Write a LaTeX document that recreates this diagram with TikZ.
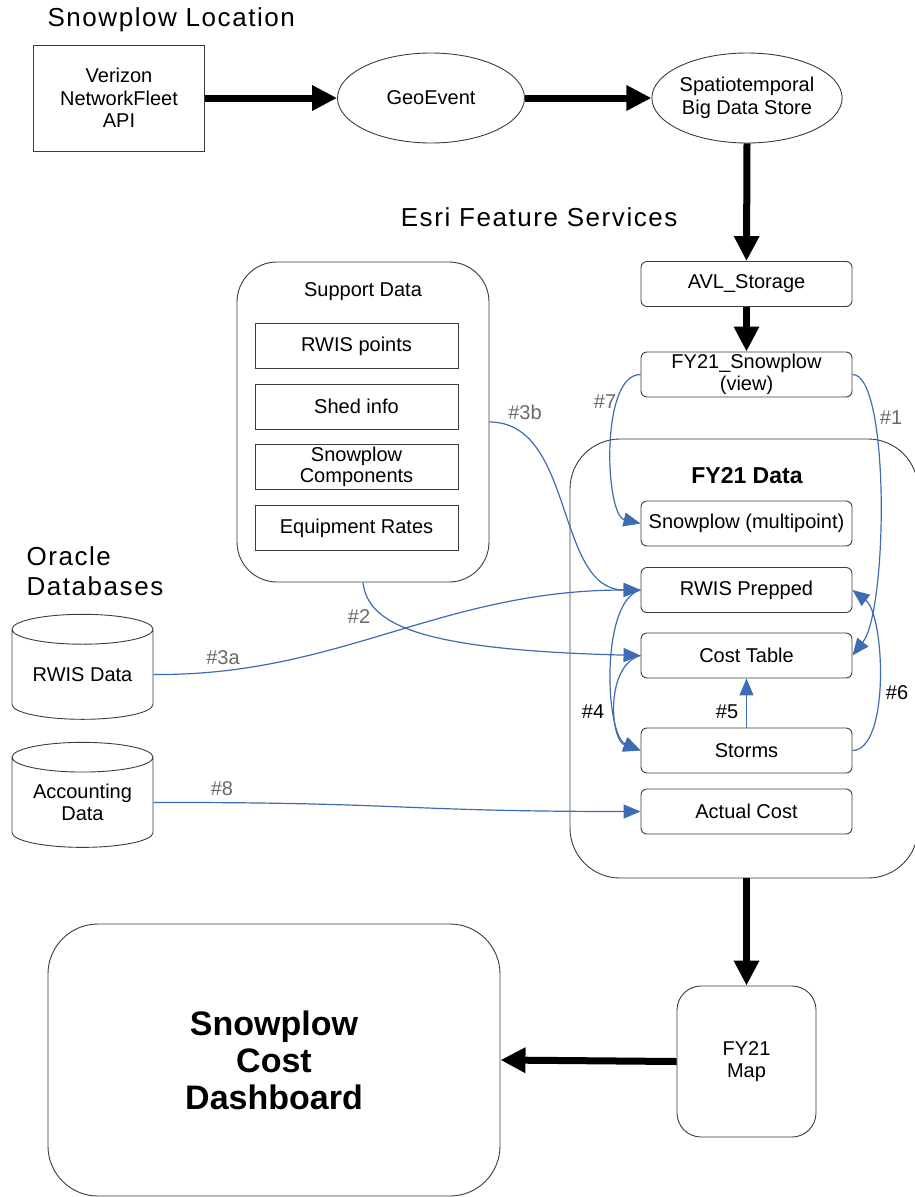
\documentclass[tikz,border=0pt]{standalone}
\usepackage{fontspec}
\setmainfont{Liberation Sans}
\newfontfamily\spacedsans[LetterSpace=6]{Liberation Sans}
\usetikzlibrary{shapes.geometric,arrows.meta}
\definecolor{linkblue}{RGB}{62,108,178}
\definecolor{edgegray}{RGB}{60,60,60}
\definecolor{taggray}{RGB}{105,105,105}
\newcommand{\bodyfont}{\fontsize{20}{22.5}\selectfont}
\newcommand{\headfont}{\spacedsans\fontsize{26}{30}\selectfont}
\newcommand{\titlefont}{\fontsize{23}{27}\selectfont\bfseries}
\newcommand{\dashfont}{\fontsize{34}{37}\selectfont\bfseries}
\tikzset{
  box/.style={draw=edgegray, line width=0.9, rounded corners=6, minimum width=211, minimum height=45, inner sep=2, align=center, font=\bodyfont},
  plain/.style={draw=edgegray, line width=0.9, minimum width=203, minimum height=45, inner sep=2, align=center, font=\bodyfont},
  blob/.style={ellipse, draw=edgegray, line width=0.9, minimum width=187, minimum height=90, inner sep=0, align=center, font=\bodyfont},
  dbase/.style={cylinder, shape border rotate=90, aspect=0.3, draw=edgegray, line width=0.9, minimum width=141, minimum height=105, inner sep=0, align=center, font=\bodyfont},
  group/.style={draw=edgegray, line width=0.9, align=center},
  fat/.style={line width=7, -{Triangle[length=25pt 0 0, width=24pt 0 0]}},
  link/.style={draw=linkblue, line width=1.2, -{Triangle[length=17pt 0 0, width=14pt 0 0, fill=linkblue]}},
  tag/.style={font=\bodyfont, text=taggray},
  tagdark/.style={font=\bodyfont, text=black},
  head/.style={font=\headfont, align=left}
}

\begin{document}
\begin{tikzpicture}[x=1pt,y=-1pt]
    \useasboundingbox (0,0) rectangle (914,1197);
    % headings
    \node[head, anchor=west] (loc) at (44,20) {Snowplow Location};
    \node[head, anchor=east] (esri) at (681,217) {Esri Feature Services};
    \node[head, anchor=west] (oracle) at (23,571) {Oracle\\Databases};

    % location feed
    \node[plain, minimum width=171, minimum height=106] (verizon) at (119,98) {Verizon\\NetworkFleet\\API};
    \node[blob] (geo) at (431,98) {GeoEvent};
    \node[blob, minimum width=188] (bigdata) at (747,98) {Spatiotemporal\\Big Data Store};
    \node[box] (avl) at (746.5,284) {AVL\_Storage};
    \node[box, font=\fontsize{20}{22}\selectfont] (view) at (746.5,374.5) {FY21\_Snowplow\\(view)};

    % support data
    \node[group, rounded corners=40, minimum width=252, minimum height=320] (support) at (363,422) {};
    \node[font=\bodyfont] (suptitle) at (363,292) {Support Data};
    \node[plain] (rwispts) at (356.5,346) {RWIS points};
    \node[plain] (shed) at (356.5,406.5) {Shed info};
    \node[plain, font=\fontsize{20}{21}\selectfont] (comps) at (356.5,466.5) {Snowplow\\Components};
    \node[plain] (rates) at (356.5,528) {Equipment Rates};

    % FY21 data
    \node[group, rounded corners=50, minimum width=348, minimum height=439] (fydata) at (744,658.5) {};
    \node[font=\titlefont] (fytitle) at (747,476) {FY21 Data};
    \node[box] (plowpts) at (746.5,523.5) {Snowplow (multipoint)};
    \node[box] (rwisprep) at (746.5,590) {RWIS Prepped};
    \node[box] (costtab) at (746.5,655.5) {Cost Table};
    \node[box] (storms) at (746.5,750.5) {Storms};
    \node[box] (actual) at (746.5,811.5) {Actual Cost};

    % oracle
    \node[dbase] (rwisdb) at (82.5,674.5) {RWIS Data};
    \node[dbase] (acctdb) at (82.5,802.5) {Accounting\\Data};

    % outputs
    \node[group, rounded corners=24, minimum width=139, minimum height=151, font=\bodyfont] (map) at (746.5,1061.5) {FY21\\Map};
    \node[group, rounded corners=50, minimum width=452, minimum height=272, font=\dashfont] (dash) at (274,1060) {Snowplow\\Cost\\Dashboard};

    % main flow
    \draw[fat] (verizon.east) -- (geo.west);
    \draw[fat] (geo.east) -- (bigdata.west);
    \draw[fat] (bigdata.south) -- (avl.north);
    \draw[fat] (avl.south) -- (view.north);
    \draw[fat] (fydata.south -| map.north) -- (map.north);
    \draw[fat] (map.west) -- (dash.east);

    % numbered links
    \draw[link] (view.east) .. controls (890,374) and (888,610) .. (costtab.east);
    \draw[link] (support.south) .. controls (368,625) and (420,650) .. (costtab.west);
    \draw[link] (rwisdb.east) .. controls (340,676) and (440,590) .. (rwisprep.west);
    \draw[link] (support.east) .. controls (575,422) and (555,590) .. (rwisprep.west);
    \draw[link] (rwisprep.west) .. controls (600,600) and (605,735) .. (storms.west);
    \draw[link] (costtab.west) .. controls (605,665) and (610,740) .. (storms.west);
    \draw[link] (storms.north) -- (costtab.south);
    \draw[link] (storms.east) .. controls (890,750) and (885,615) .. (rwisprep.east);
    \draw[link] (view.west) .. controls (600,374) and (605,515) .. (plowpts.west);
    \draw[link] (acctdb.east) .. controls (400,802) and (400,811.5) .. (actual.west);

    \node[tag] (t1) at (891,418) {\#1};
    \node[tag] (t2) at (359,617) {\#2};
    \node[tag] (t3a) at (223,658) {\#3a};
    \node[tag] (t3b) at (525,412) {\#3b};
    \node[tagdark] (t4) at (593,712) {\#4};
    \node[tagdark] (t5) at (727,712) {\#5};
    \node[tagdark] (t6) at (897,693) {\#6};
    \node[tag] (t7) at (605,402) {\#7};
    \node[tag] (t8) at (222,789) {\#8};
\end{tikzpicture}
\end{document}
